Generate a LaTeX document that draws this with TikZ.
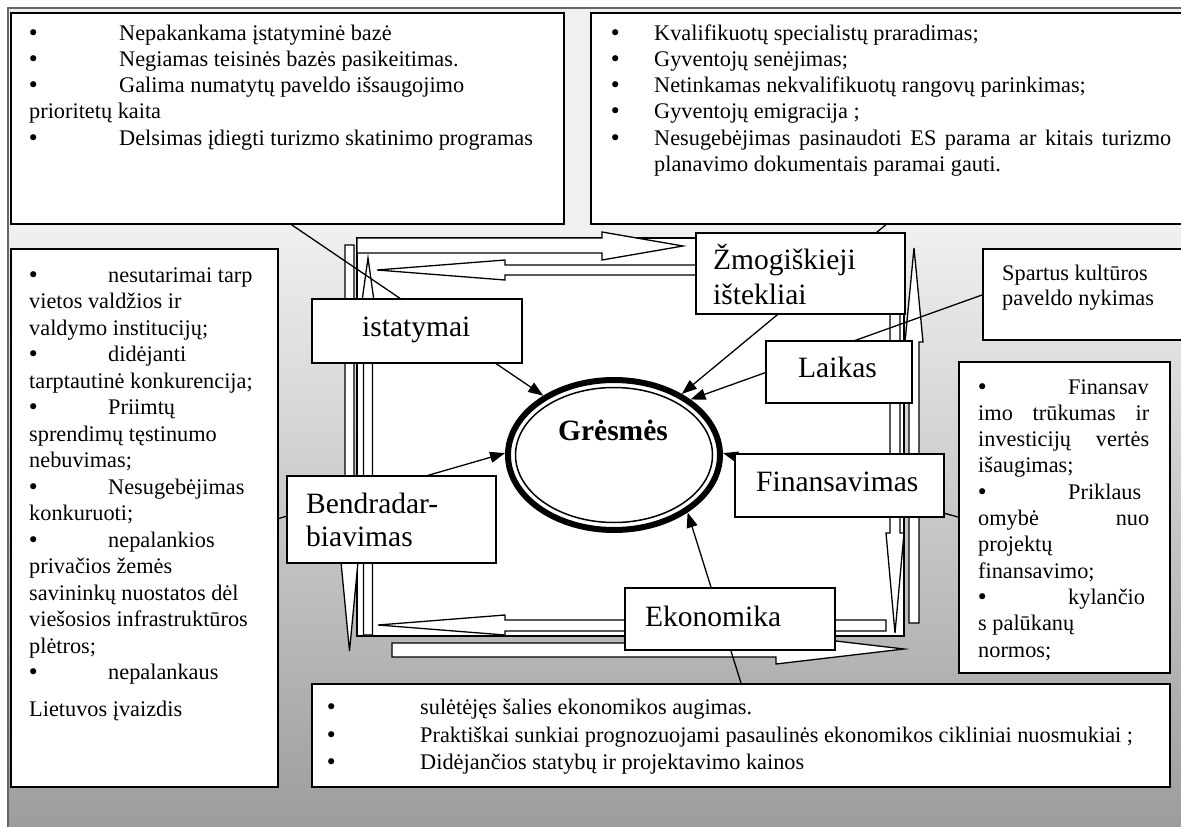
\documentclass[tikz,border=0pt]{standalone}
\usepackage{fontspec}
\setmainfont{Liberation Serif}
\newfontfamily\bulfont{DejaVu Sans}
\usetikzlibrary{shapes.geometric,arrows.meta}
\begin{document}
\begin{tikzpicture}[x=1pt,y=-1pt,
  box/.style={draw, line width=1.5pt, fill=white, inner sep=0pt, anchor=north west},
  tx/.style={anchor=base west, inner sep=0pt, font=\fontsize{22.3}{26.5}\selectfont},
  bul/.style={anchor=base west, inner sep=0pt, font=\bulfont\fontsize{21}{24}\selectfont},
  labtxt/.style={anchor=base west, inner sep=0pt, font=\fontsize{29.5}{34}\selectfont},
  conn/.style={line width=1.3pt},
  arr/.style={conn, -{Triangle[length=15pt,width=11pt]}},
  blk/.style={draw, line width=1.3pt, fill=white, line join=miter},
]
\useasboundingbox (0,0) rectangle (1181,827);
% background canvas
\fill[white] (0,0) rectangle (1181,827);
\fill[black!6] (8,8) rectangle (1190,232);
\shade[top color=black!6, bottom color=black!39] (8,231) rectangle (1190,835);
\draw[black!60, line width=1.5pt] (8,835) -- (8,8) -- (1190,8);

% frame and block arrows
\draw[blk] (357,238) rectangle (904,636);
\draw[blk] (357,238) -- (602,238) -- (602,232) -- (683,246) -- (602,260) -- (602,253) -- (357,253) -- cycle;
\draw[blk] (700,265) -- (505,265) -- (505,260) -- (377,270) -- (505,280) -- (505,275) -- (700,275) -- cycle;
\draw[blk] (363.5,635) -- (363.5,301) -- (362,301) -- (368,258) -- (374,301) -- (372.5,301) -- (372.5,635) -- cycle;
\draw[blk] (345,245) -- (354,245) -- (354,562) -- (358,562) -- (349.5,651) -- (341,562) -- (345,562) -- cycle;
\draw[blk] (886,620) -- (505,620) -- (505,615) -- (378,625) -- (505,635) -- (505,631) -- (886,631) -- cycle;
\draw[blk] (392,643) -- (776,643) -- (776,634) -- (904,649) -- (776,664) -- (776,657) -- (392,657) -- cycle;
\draw[blk] (890,300) -- (900,300) -- (900,533) -- (904,533) -- (895,633) -- (886,533) -- (890,533) -- cycle;
\draw[blk] (909,623) -- (909,342) -- (905,342) -- (914,248) -- (923,342) -- (919,342) -- (919,623) -- cycle;

% central ellipse
\node[ellipse, draw, line width=6pt, fill=white, minimum width=212pt, minimum height=150pt, inner sep=0pt] (g) at (614,455) {};
\draw[line width=1.5pt] (g.center) ellipse [x radius=98.5pt, y radius=67.5pt];
\node[font=\bfseries\fontsize{29.5}{34}\selectfont, inner sep=0pt] (gt) at (613,430) {Grėsmės};

% connectors
\coordinate (c1) at (289,223);
\coordinate (c2) at (888,223);
\coordinate (c3) at (982,295);
\coordinate (c4) at (277,519);
\coordinate (c5) at (958,517);
\coordinate (c6) at (741,683);
\draw[arr] (c1) -- (g.140);
\draw[arr] (c2) -- (g.42);
\draw[arr] (c3) -- (g.36);
\draw[arr] (c4) -- (g.179);
\draw[arr] (c5) -- (g.1);
\draw[arr] (c6) -- (g.-38);

% category boxes
\node[box, minimum width=210pt, minimum height=64pt] (ist) at (311,298) {};
\node[labtxt] at (362,336) {istatymai};
\node[box, minimum width=209pt, minimum height=81pt] (zm) at (695,232) {};
\node[labtxt] at (713,269) {Žmogiškieji};
\node[labtxt] at (713,304) {ištekliai};
\node[box, minimum width=146pt, minimum height=62pt] (lk) at (765,340) {};
\node[labtxt] at (798,377) {Laikas};
\node[box, minimum width=209pt, minimum height=63pt] (fn) at (734,453) {};
\node[labtxt] at (756,491) {Finansavimas};
\node[box, minimum width=209pt, minimum height=87pt] (bd) at (286,475) {};
\node[labtxt] at (306,513) {Bendradar-};
\node[labtxt] at (306,546) {biavimas};
\node[box, minimum width=210pt, minimum height=62pt] (ek) at (624,587) {};
\node[labtxt] at (645,626) {Ekonomika};

% outer text boxes
\node[box, minimum width=553pt, minimum height=211pt] (tl) at (10,12) {};
\node[bul] at (27,40) {•};\node[tx] at (119,40) {Nepakankama įstatyminė bazė};
\node[bul] at (27,66.3) {•};\node[tx] at (119,66.3) {Negiamas teisinės bazės pasikeitimas.};
\node[bul] at (27,92.6) {•};\node[tx] at (119,92.6) {Galima numatytų paveldo išsaugojimo};
\node[tx] at (29,118.9) {prioritetų kaita};
\node[bul] at (27,145.2) {•};\node[tx] at (119,145.2) {Delsimas įdiegti turizmo skatinimo programas};

\node[box, minimum width=600pt, minimum height=211pt] (tr) at (590,12) {};
\node[bul] at (609,40) {•};\node[tx] at (654,40) {Kvalifikuotų specialistų praradimas;};
\node[bul] at (609,66.3) {•};\node[tx] at (654,66.3) {Gyventojų senėjimas;};
\node[bul] at (609,92.6) {•};\node[tx] at (654,92.6) {Netinkamas nekvalifikuotų rangovų parinkimas;};
\node[bul] at (609,118.9) {•};\node[tx] at (654,118.9) {Gyventojų emigracija ;};
\node[bul] at (609,145.2) {•};\node[tx] at (654,145.2) {\makebox[517pt][s]{Nesugebėjimas pasinaudoti ES parama ar kitais turizmo}};
\node[tx] at (654,171.5) {planavimo dokumentais paramai gauti.};

\node[box, minimum width=267pt, minimum height=538pt] (lb) at (10,248) {};
\node[bul] at (27,282) {•};\node[tx] at (108,282) {nesutarimai tarp};
\node[tx] at (29,308.5) {vietos valdžios ir};
\node[tx] at (29,335) {valdymo institucijų;};
\node[bul] at (27,361.5) {•};\node[tx] at (108,361.5) {didėjanti};
\node[tx] at (29,388) {tarptautinė konkurencija;};
\node[bul] at (27,414.5) {•};\node[tx] at (108,414.5) {Priimtų};
\node[tx] at (29,441) {sprendimų tęstinumo};
\node[tx] at (29,467.5) {nebuvimas;};
\node[bul] at (27,494) {•};\node[tx] at (108,494) {Nesugebėjimas};
\node[tx] at (29,520.5) {konkuruoti;};
\node[bul] at (27,547) {•};\node[tx] at (108,547) {nepalankios};
\node[tx] at (29,573.5) {privačios žemės};
\node[tx] at (29,600) {savininkų nuostatos dėl};
\node[tx] at (29,626.5) {viešosios infrastruktūros};
\node[tx] at (29,653) {plėtros;};
\node[bul] at (27,679.5) {•};\node[tx] at (108,679.5) {nepalankaus};
\node[tx] at (29,716) {Lietuvos įvaizdis};

\node[box, minimum width=858pt, minimum height=103pt] (bt) at (311,683) {};
\node[bul] at (325,714) {•};\node[tx] at (420,714) {sulėtėjęs šalies ekonomikos augimas.};
\node[bul] at (325,742) {•};\node[tx] at (420,742) {Praktiškai sunkiai prognozuojami pasaulinės ekonomikos cikliniai nuosmukiai ;};
\node[bul] at (325,769) {•};\node[tx] at (420,769) {Didėjančios statybų ir projektavimo kainos};

\node[box, minimum width=211pt, minimum height=311pt] (rf) at (958,361) {};
\node[bul] at (976,394) {•};\node[tx] at (1068,394) {Finansav};
\node[tx] at (978,420.3) {\makebox[171pt][s]{imo trūkumas ir}};
\node[tx] at (978,446.6) {\makebox[171pt][s]{investicijų vertės}};
\node[tx] at (978,472.9) {išaugimas;};
\node[bul] at (976,499.2) {•};\node[tx] at (1068,499.2) {Priklaus};
\node[tx] at (978,525.5) {\makebox[171pt][s]{omybė nuo}};
\node[tx] at (978,551.8) {projektų};
\node[tx] at (978,578.1) {finansavimo;};
\node[bul] at (976,604.4) {•};\node[tx] at (1068,604.4) {kylančio};
\node[tx] at (978,630.7) {s palūkanų};
\node[tx] at (978,657) {normos;};

\node[box, minimum width=210pt, minimum height=91pt] (sp) at (982,248) {};
\node[tx] at (1002,280) {Spartus kultūros};
\node[tx] at (1002,305) {paveldo nykimas};
\end{tikzpicture}
\end{document}
